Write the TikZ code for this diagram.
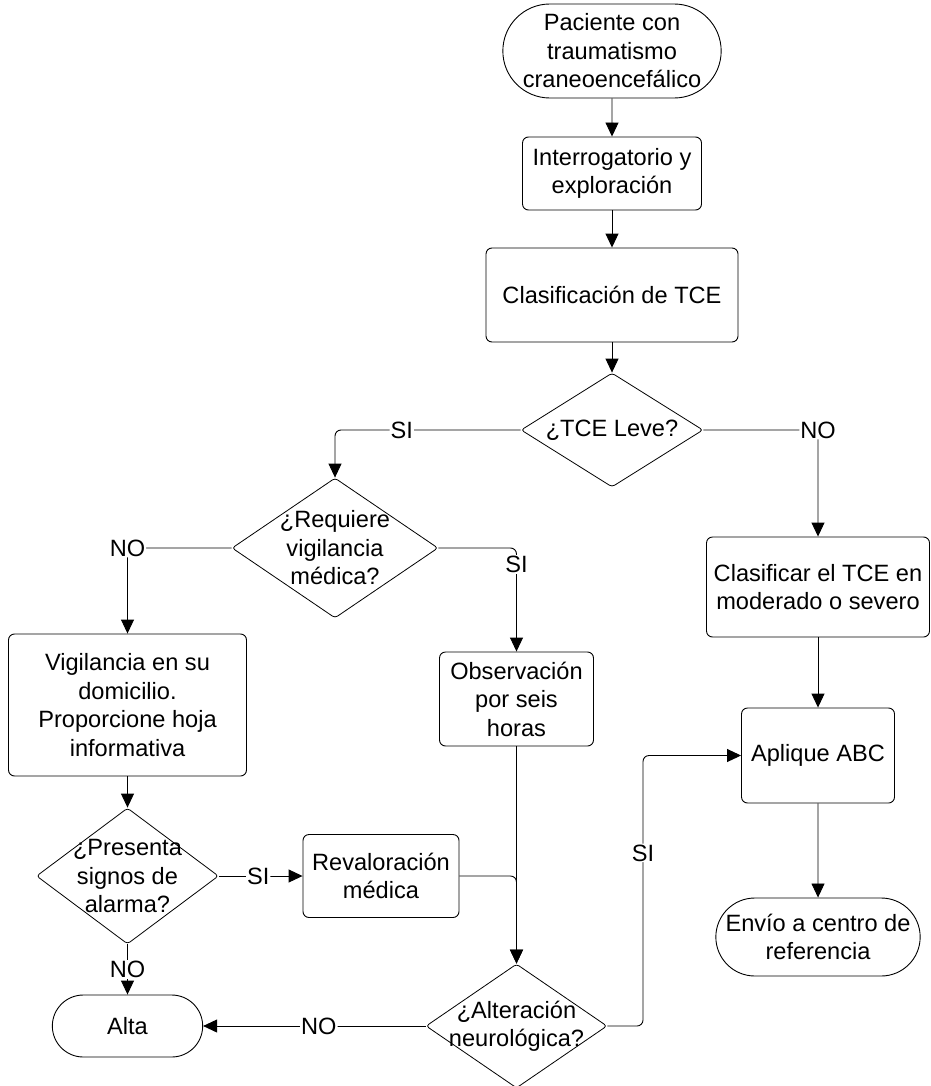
\documentclass[tikz,border=0pt]{standalone}
\usepackage{fontspec}
\setmainfont{Liberation Sans}
\usepackage{tikz}
\usetikzlibrary{arrows.meta,
shapes.geometric,
shapes.misc
}
\tikzset{>={Triangle[length=14pt,width=13pt]}}
\newcommand{\flowfont}{\fontsize{23.6}{28.5}\selectfont}
\tikzset{
  proc/.style={draw, line width=0.9pt, rounded corners=6pt, align=center, font=\flowfont},
  term/.style={draw, line width=0.9pt, rounded rectangle, align=center, font=\flowfont},
  dec/.style={draw, line width=0.8pt, diamond, rounded corners=3pt, inner sep=0pt},
  dectxt/.style={align=center, font=\flowfont},
  lbl/.style={fill=white, inner sep=1pt, font=\flowfont},
  flow/.style={->, line width=0.9pt, rounded corners=6pt}
}

\begin{document}
\begin{tikzpicture}[x=1pt, y=-1pt]
                    \useasboundingbox (0,0) rectangle (930,1086);

                    % central column
                    \node[term, minimum width=225pt, minimum height=94pt] (pac) at (612,51)
                    {Paciente con\\traumatismo\\craneoencefálico};
                    \node[proc, minimum width=179pt, minimum height=73pt] (int) at (612,173.5)
                    {Interrogatorio y\\exploración};
                    \node[proc, minimum width=252pt, minimum height=94pt] (clas) at (612,295)
                    {Clasificación de TCE};
                    \node[dec, minimum width=182pt, minimum height=114pt,
                    label={[dectxt]center:¿TCE Leve?}] (leve) at (612,430) {};

                    % leve = si
                    \node[dec, minimum width=206pt, minimum height=140pt,
                    label={[dectxt]center:¿Requiere\\vigilancia\\médica?}] (req) at (335,548) {};
                    \node[proc, minimum width=238pt, minimum height=142pt] (vig) at (127.5,705)
                    {Vigilancia en su\\domicilio.\\Proporcione hoja\\informativa};
                    \node[dec, minimum width=182pt, minimum height=136pt,
                    label={[dectxt]center:¿Presenta\\signos de\\alarma?}] (pres) at (127.5,876) {};
                    \node[term, minimum width=157pt, minimum height=62pt] (alta) at (127.5,1026)
                    {Alta};
                    \node[proc, minimum width=156pt, minimum height=83pt] (rev) at (381,876)
                    {Revaloración\\médica};
                    \node[proc, minimum width=154pt, minimum height=94pt] (obs) at (516.5,699)
                    {Observación\\por seis\\horas};
                    \node[dec, minimum width=181pt, minimum height=124pt,
                    label={[dectxt]center:¿Alteración\\neurológica?}] (alt) at (516.5,1026) {};

                    % leve = no
                    \node[proc, minimum width=223pt, minimum height=100pt] (clsf) at (818,587)
                    {Clasificar el TCE en\\moderado o severo};
                    \node[proc, minimum width=153pt, minimum height=95pt] (apl) at (818,755.5)
                    {Aplique ABC};
                    \node[term, minimum width=211pt, minimum height=78pt] (env) at (818,937)
                    {Envío a centro de\\referencia};
                    \coordinate (sibend) at (643,755.5);

                    \draw[flow] (pac) -- (int);
                    \draw[flow] (int) -- (clas);
                    \draw[flow] (clas) -- (leve);
                    \draw[flow] (leve.west) -| node[lbl, pos=0.32] {SI} (req.north);
                    \draw[flow] (leve.east) -| node[lbl, pos=0.5] {NO} (clsf.north);
                    \draw[flow] (req.west) -| node[lbl, pos=0.5] {NO} (vig.north);
                    \draw[flow] (req.east) -| node[lbl, pos=0.58] {SI} (obs.north);
                    \draw[flow] (vig) -- (pres);
                    \draw[flow] (pres.east) -- node[lbl, pos=0.47] {SI} (rev.west);
                    \draw[flow] (pres.south) -- node[lbl] {NO} (alta.north);
                    \draw[flow] (obs) -- (alt);
                    \draw[flow] (rev.east) -| (alt.north);
                    \draw[flow] (alt.west) -- node[lbl, pos=0.48] {NO} (alta.east);
                    \draw[flow] (alt.east) -| node[lbl, pos=0.82] {SI} (sibend) -- (apl.west);
                    \draw[flow] (clsf) -- (apl);
                    \draw[flow] (apl) -- (env);
\end{tikzpicture}
\end{document}
